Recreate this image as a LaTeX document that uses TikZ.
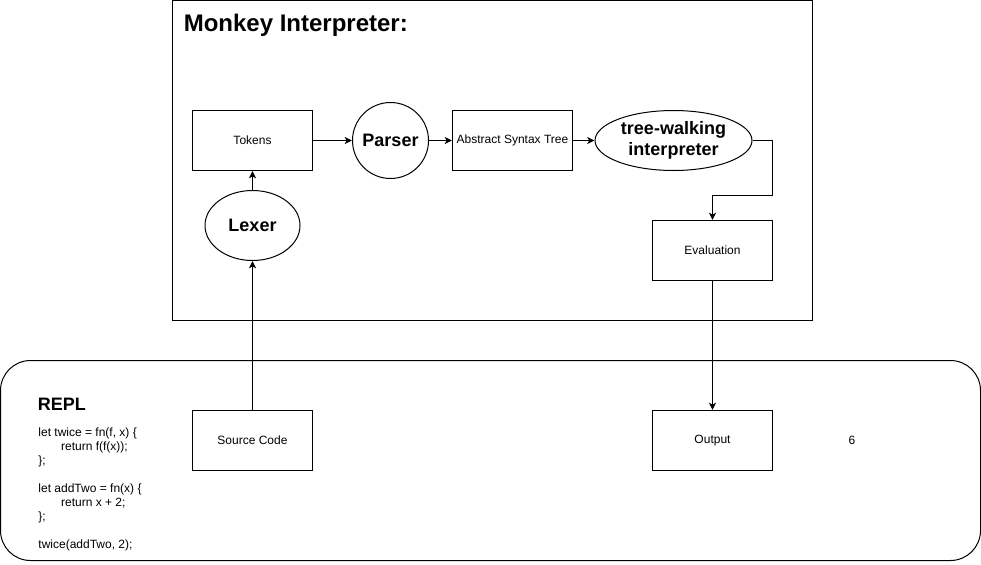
\documentclass[tikz,border=0pt]{standalone}
\usepackage{fontspec}
\setmainfont{Liberation Sans}
\usetikzlibrary{arrows.meta,shapes.geometric}
\begin{document}
\begin{tikzpicture}
    [x=0.75pt, y=-0.75pt,
    every node/.style={font=\fontsize{9}{10.8}\selectfont, inner sep=0pt},
    box/.style={draw, line width=0.75pt, minimum width=90pt, minimum height=45pt},
    blob/.style={draw, line width=0.75pt, ellipse, align=center,
      font=\fontsize{13.5}{16}\selectfont\bfseries},
    heading/.style={anchor=base west, font=\fontsize{13.5}{16}\selectfont\bfseries},
    flow/.style={-{Stealth[length=5.5pt,width=5.25pt,inset=1.5pt]}, line width=0.75pt}]
    \useasboundingbox (0,0) rectangle (981,564);
    % frames
    \node [draw, line width=0.75pt, minimum width=480pt, minimum height=240pt] (interp) at (492.5,160.5) {};
    \node [draw, line width=0.75pt, rounded corners=22.5pt, minimum width=735pt, minimum height=150pt] (repl) at (490.5,460.5) {};
    \node [heading, font=\fontsize{18}{21}\selectfont\bfseries] (title) at (183.5,31.5) {Monkey Interpreter:};
    \node [heading] (repltitle) at (37.7,410) {REPL};
    % interpreter
    \node [box] (tokens) at (252.5,140.5) {Tokens};
    \node [blob, circle, minimum size=57pt] (parser) at (390.5,140.5) {Parser};
    \node [box] (ast) at (512.5,140.5) {Abstract Syntax Tree};
    \node [blob, minimum width=117.75pt, minimum height=45pt] (tree) at (673.5,140.5) {tree-walking\\interpreter};
    \node [blob, minimum width=71.25pt, minimum height=52.5pt] (lexer) at (252.5,225.5) {Lexer};
    \node [box] (eval) at (712.5,250.5) {Evaluation};
    % repl
    \node [box] (src) at (252.5,440.5) {Source Code};
    \node [box] (out) at (712.5,440.5) {Output};
    \node (result) at (852,440.5) {6};
    \node [anchor=north west, align=left, font=\fontsize{9}{10.42}\selectfont] (code) at (38.2,428) {%
      let twice = fn(f, x) \{\\
      \hspace*{17pt}return f(f(x));\\
      \};\\[10.42pt]
      let addTwo = fn(x) \{\\
      \hspace*{17pt}return x + 2;\\
      \};\\[10.42pt]
      twice(addTwo, 2);};
    % connectors
    \coordinate (bend) at (772.5,195.5);
    \draw [flow] (src.north) -- (lexer.south);
    \draw [flow] (lexer.north) -- (tokens.south);
    \draw [flow] (tokens) -- (parser);
    \draw [flow] (parser) -- (ast);
    \draw [flow] (ast) -- (tree);
    \draw [flow] (tree.east) -| (bend) -| (eval.north);
    \draw [flow] (eval) -- (out);
\end{tikzpicture}
\end{document}
